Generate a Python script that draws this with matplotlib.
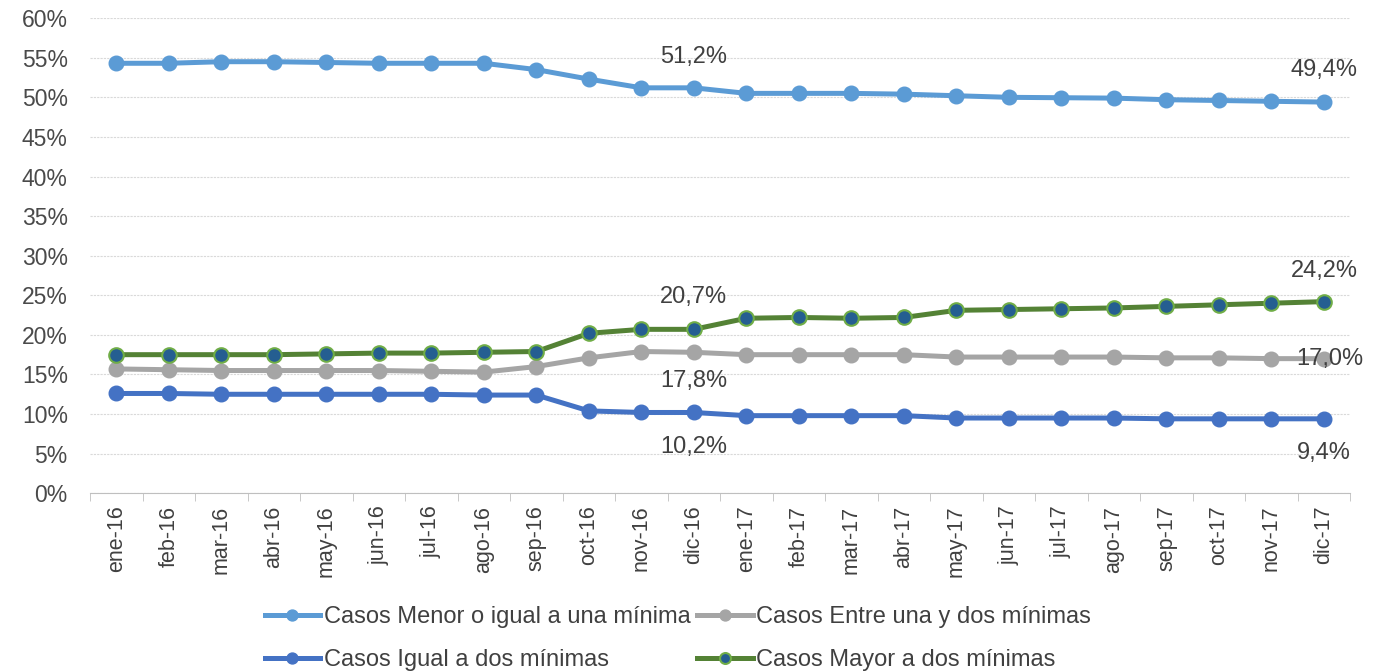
import numpy as np
import matplotlib
matplotlib.use('Agg')
from matplotlib import pyplot as plt
from matplotlib.ticker import PercentFormatter

plt.rcParams['font.family'] = ['Liberation Sans', 'DejaVu Sans']

# Data (percent)
months = ['ene-16', 'feb-16', 'mar-16', 'abr-16', 'may-16', 'jun-16', 'jul-16', 'ago-16',
          'sep-16', 'oct-16', 'nov-16', 'dic-16', 'ene-17', 'feb-17', 'mar-17', 'abr-17',
          'may-17', 'jun-17', 'jul-17', 'ago-17', 'sep-17', 'oct-17', 'nov-17', 'dic-17']
menor_una = [54.3, 54.3, 54.5, 54.5, 54.4, 54.3, 54.3, 54.3, 53.5, 52.3, 51.2, 51.2,
             50.5, 50.5, 50.5, 50.4, 50.2, 50.0, 49.95, 49.9, 49.7, 49.6, 49.5, 49.4]
entre_una_dos = [15.7, 15.6, 15.5, 15.5, 15.5, 15.5, 15.4, 15.3, 16.0, 17.1, 17.9, 17.8,
                 17.5, 17.5, 17.5, 17.5, 17.2, 17.2, 17.2, 17.2, 17.1, 17.1, 17.0, 17.0]
igual_dos = [12.6, 12.6, 12.5, 12.5, 12.5, 12.5, 12.5, 12.4, 12.4, 10.4, 10.2, 10.2,
             9.8, 9.8, 9.8, 9.8, 9.5, 9.5, 9.5, 9.5, 9.4, 9.4, 9.4, 9.4]
mayor_dos = [17.5, 17.5, 17.5, 17.5, 17.6, 17.7, 17.7, 17.8, 17.9, 20.2, 20.7, 20.7,
             22.1, 22.2, 22.1, 22.2, 23.1, 23.2, 23.3, 23.4, 23.6, 23.8, 24.0, 24.2]

x = np.arange(len(months))
txt = '#404040'

fig = plt.figure(figsize=(13.92, 6.72), dpi=100)
ax = fig.add_axes([0.0647, 0.266, 0.9053, 0.707])

lw, ms = 3.6, 10.5
h1, = ax.plot(x, menor_una, color='#5B9BD5', lw=lw, marker='o', ms=ms, label='Casos Menor o igual a una mínima')
h2, = ax.plot(x, entre_una_dos, color='#A5A5A5', lw=lw, marker='o', ms=ms, label='Casos Entre una y dos mínimas')
h3, = ax.plot(x, igual_dos, color='#4472C4', lw=lw, marker='o', ms=ms, label='Casos Igual a dos mínimas')
h4, = ax.plot(x, mayor_dos, color='#548235', lw=lw, marker='o', ms=ms, mfc='#255E91', mec='#70AD47',
              mew=1.5, label='Casos Mayor a dos mínimas')

# data labels
i1, i2 = 11, 23
def lab(i, v, dy, dx=0):
    ax.annotate(f'{v:.1f}%'.replace('.', ','), (x[i], v), xytext=(dx, dy), textcoords='offset points',
                ha='center', va='center', fontsize=17, color=txt)
lab(i1, menor_una[i1], 22)
lab(i2, menor_una[i2], 23)
lab(i1, mayor_dos[i1], 23)
lab(i2, mayor_dos[i2], 22)
lab(i1, entre_una_dos[i1], -21)
lab(i2, entre_una_dos[i2], 0, 4)
lab(i1, igual_dos[i1], -24.5)
lab(i2, igual_dos[i2], -24.5)

ax.set_xlim(-0.5, len(months) - 0.5)
ax.set_ylim(0, 60)
ax.set_yticks(np.arange(0, 61, 5))
ax.yaxis.set_major_formatter(PercentFormatter(decimals=0))
ax.set_xticks(x)
ax.set_xticklabels(months, rotation=90, fontsize=15.5, color=txt)
ax.tick_params(axis='x', length=0, pad=9)
ax.set_xticks(np.arange(-0.5, len(months), 1), minor=True)
ax.tick_params(axis='x', which='minor', length=6, color='#BFBFBF')
ax.tick_params(axis='y', length=0, labelsize=16.5, labelcolor='#4a4a4a', pad=16)
ax.grid(axis='y', color='#D9D9D9', lw=0.8, ls=(0, (2, 1)))
ax.set_axisbelow(True)
for s in ['top', 'right', 'left']:
    ax.spines[s].set_visible(False)
ax.spines['bottom'].set_color('#BFBFBF')

# row-major order like the original legend
fig.legend([h1, h3, h2, h4], [h.get_label() for h in [h1, h3, h2, h4]],
           loc='center', bbox_to_anchor=(0.487, 0.05), ncol=2, frameon=False,
           fontsize=17, handlelength=2.35, handletextpad=0.15, columnspacing=0.3,
           labelspacing=0.9, markerscale=0.75, labelcolor=txt)

fig.savefig('out.png', dpi=100)
